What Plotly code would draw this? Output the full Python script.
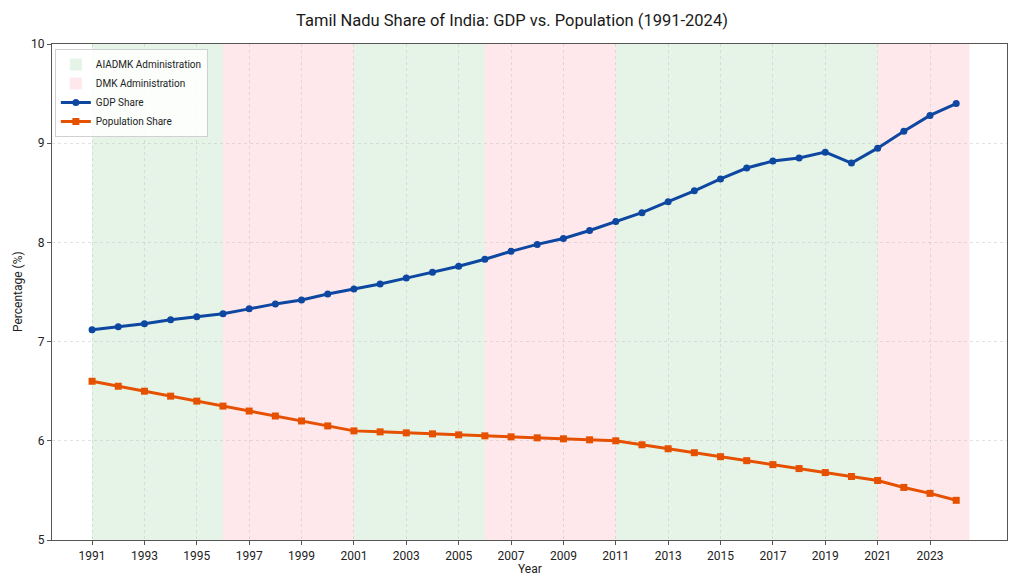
import plotly.graph_objects as go

years = list(range(1991, 2025))
gdp_share = [7.12, 7.15, 7.18, 7.22, 7.25, 7.28, 7.33, 7.38, 7.42, 7.48,
             7.53, 7.58, 7.64, 7.70, 7.76, 7.83, 7.91, 7.98, 8.04, 8.12,
             8.21, 8.30, 8.41, 8.52, 8.64, 8.75, 8.82, 8.85, 8.91, 8.80,
             8.95, 9.12, 9.28, 9.40]
pop_share = [6.60, 6.55, 6.50, 6.45, 6.40, 6.35, 6.30, 6.25, 6.20, 6.15,
             6.10, 6.09, 6.08, 6.07, 6.06, 6.05, 6.04, 6.03, 6.02, 6.01,
             6.00, 5.96, 5.92, 5.88, 5.84, 5.80, 5.76, 5.72, 5.68, 5.64,
             5.60, 5.53, 5.47, 5.40]

terms_start = [1991, 1996, 2001, 2006, 2011, 2021]
terms_end = [1996, 2001, 2006, 2011, 2021, 2024.5]
terms_party = ["AIADMK", "DMK", "AIADMK", "DMK", "AIADMK", "DMK"]

party_fill = {"AIADMK": "rgba(200,230,201,0.45)", "DMK": "rgba(255,205,210,0.45)"}
party_name = {"AIADMK": "AIADMK Administration", "DMK": "DMK Administration"}
party_rank = {"AIADMK": 1, "DMK": 2}

font = "Roboto, Inter, sans-serif"

fig = go.Figure()

shapes = []
seen = set()
for s, e, p in zip(terms_start, terms_end, terms_party):
    first = p not in seen
    seen.add(p)
    shapes.append(dict(
        type="rect", xref="x", yref="paper", x0=s, x1=e, y0=0, y1=1,
        fillcolor=party_fill[p], line=dict(width=0), layer="below",
        showlegend=first, name=party_name[p], legendrank=party_rank[p],
        legendgroup=p,
    ))

fig.add_trace(go.Scatter(
    x=years, y=gdp_share, mode="lines+markers", name="GDP Share",
    line=dict(color="#0d47a1", width=3),
    marker=dict(symbol="circle", size=7, color="#0d47a1"),
    legendrank=3,
))
fig.add_trace(go.Scatter(
    x=years, y=pop_share, mode="lines+markers", name="Population Share",
    line=dict(color="#e65100", width=3),
    marker=dict(symbol="square", size=7, color="#e65100"),
    legendrank=4,
))

grid = "rgba(190,190,190,0.45)"

fig.update_layout(
    width=1024, height=585,
    margin=dict(l=52, r=17, t=44, b=45),
    paper_bgcolor="white", plot_bgcolor="white",
    font=dict(family=font, size=12, color="#222"),
    title=dict(text="Tamil Nadu Share of India: GDP vs. Population (1991-2024)",
               x=0.5, xanchor="center", y=0.965, yanchor="middle",
               font=dict(size=16.5, color="#1a1a1a", family=font)),
    shapes=shapes,
    showlegend=True,
    legend=dict(x=0.003, y=0.99, xanchor="left", yanchor="top",
                bgcolor="rgba(255,255,255,0.85)", bordercolor="#d0d0d0", borderwidth=1,
                font=dict(size=10, family=font), tracegroupgap=0,
                itemwidth=30),
    xaxis=dict(
        range=[1989.47, 2025.94], tickmode="array",
        tickvals=list(range(1991, 2025, 2)),
        ticktext=[str(y) for y in range(1991, 2025, 2)],
        showgrid=True, gridcolor=grid, griddash="dot", gridwidth=1,
        showline=True, linecolor="#555", linewidth=1.2, mirror=True,
        ticks="outside", ticklen=4, tickcolor="#555", zeroline=False,
        tickfont=dict(size=12), automargin=False,
    ),
    yaxis=dict(
        range=[5, 10], tickmode="array", tickvals=[5, 6, 7, 8, 9, 10],
        showgrid=True, gridcolor=grid, griddash="dot", gridwidth=1,
        showline=True, linecolor="#555", linewidth=1.2, mirror=True,
        ticks="outside", ticklen=4, tickcolor="#555", zeroline=False,
        tickfont=dict(size=12), automargin=False,
    ),
    annotations=[
        dict(text="Year", xref="paper", yref="paper", x=0.5, y=-0.058,
             xanchor="center", yanchor="middle", showarrow=False,
             font=dict(size=12)),
        dict(text="Percentage (%)", xref="paper", yref="paper", x=-0.0356, y=0.5,
             xanchor="center", yanchor="middle", showarrow=False, textangle=-90,
             font=dict(size=12)),
    ],
)

fig.write_html("out.html")
